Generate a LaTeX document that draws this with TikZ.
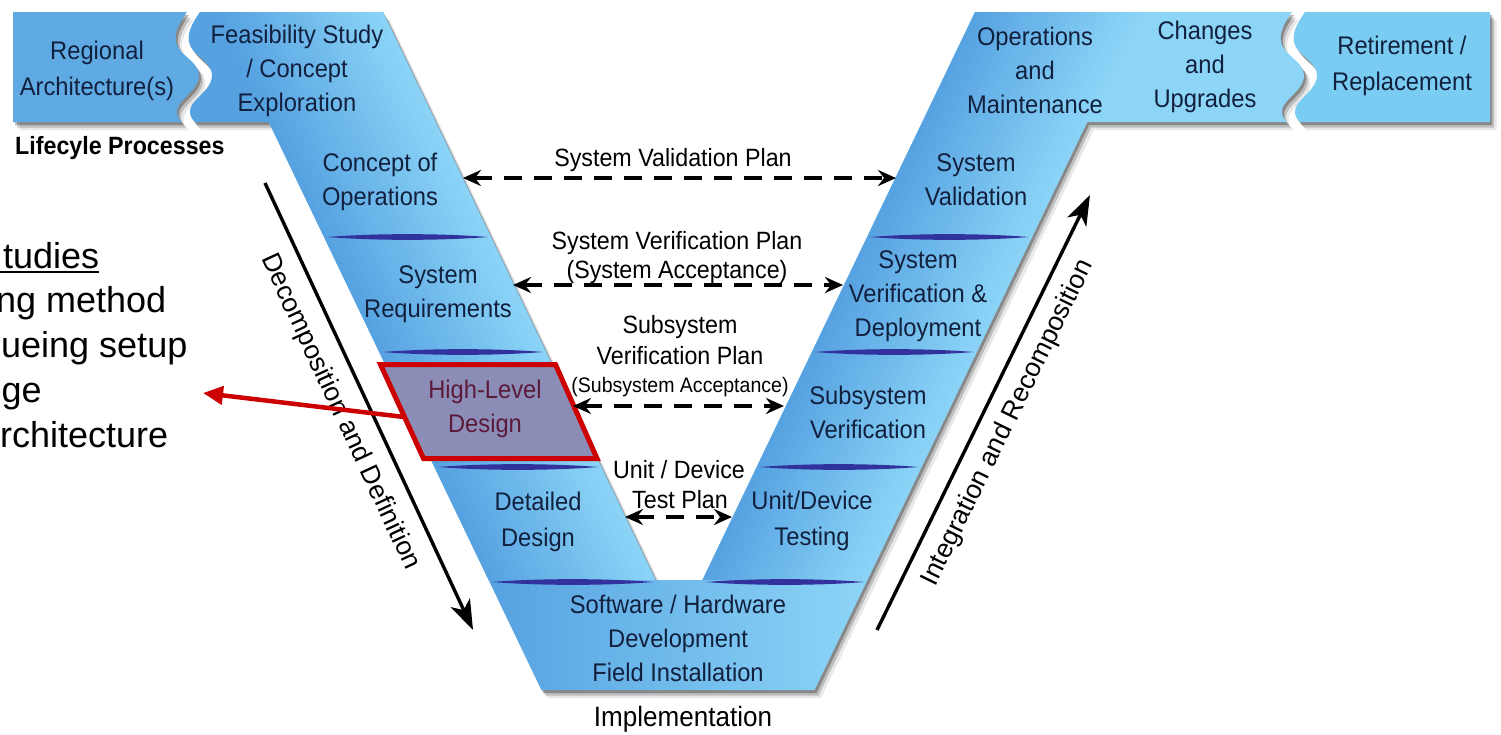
\documentclass[tikz,border=0pt]{standalone}
\usepackage{fontspec}
\setmainfont{Liberation Sans}
\newfontfamily\vfont{Liberation Sans}[FakeStretch=0.93]
\newfontfamily\nfont{Liberation Sans}
\usetikzlibrary{arrows.meta}

\definecolor{armdark}{RGB}{86,162,225}
\definecolor{armlight}{RGB}{140,213,247}
\definecolor{regionc}{RGB}{96,170,228}
\definecolor{retirec}{RGB}{122,204,242}
\definecolor{sepc}{RGB}{50,50,158}
\definecolor{navy}{RGB}{18,32,62}
\definecolor{redc}{RGB}{204,0,0}
\definecolor{hldfill}{RGB}{140,141,183}
\definecolor{hldtext}{RGB}{92,26,58}

% outlines of the blue blocks (pixel-like units, y grows downwards)
\def\pRegional{(13,12) -- (187,12) .. controls (180,22) and (174,32) .. (176,42) .. controls (178,55) and (200,62) .. (199,76) .. controls (198,92) and (176,100) .. (177,112) .. controls (177,117) and (180,120) .. (182,122) -- (13,122) -- cycle}
\def\pLeft{(200,12) -- (383,12) -- (655.6,580) -- (488.6,580) -- (268.8,122) -- (195,122) .. controls (193,120) and (190,117) .. (190,112) .. controls (189,100) and (211,92) .. (212,76) .. controls (213,62) and (191,55) .. (189,42) .. controls (187,32) and (193,22) .. (200,12) -- cycle}
\def\pBottom{(488.6,580) -- (867.4,580) -- (814.6,690) -- (541.4,690) -- cycle}
\def\pRight{(702.4,580) -- (975,12) -- (1292,12) .. controls (1285,22) and (1279,32) .. (1281,42) .. controls (1283,55) and (1305,62) .. (1304,76) .. controls (1303,92) and (1281,100) .. (1282,112) .. controls (1282,117) and (1285,120) .. (1287,122) -- (1087.2,122) -- (867.4,580) -- cycle}
\def\pRetire{(1305,12) -- (1490,12) -- (1490,122) -- (1300,122) .. controls (1298,120) and (1295,117) .. (1295,112) .. controls (1294,100) and (1316,92) .. (1317,76) .. controls (1318,62) and (1296,55) .. (1294,42) .. controls (1292,32) and (1298,22) .. (1305,12) -- cycle}

% soft drop shadow below and right of a block
\newcommand\castshadow[1]{%
  \begin{scope}[shift={(2,3)}]\fill[black,opacity=0.28] #1;\end{scope}
  \begin{scope}[shift={(4,5.5)}]\fill[black,opacity=0.18] #1;\end{scope}
  \begin{scope}[shift={(6.5,8)}]\fill[black,opacity=0.09] #1;\end{scope}}

% thin lens-shaped divider between phases
\newcommand\seplens[3]{%
  \pgfmathsetmacro\lA{#1+0.3*(#2-#1)}%
  \pgfmathsetmacro\lB{#1+0.7*(#2-#1)}%
  \fill[sepc] (#1,#3) .. controls (\lA,#3-3.8) and (\lB,#3-3.8) .. (#2,#3)
     .. controls (\lB,#3+3.8) and (\lA,#3+3.8) .. (#1,#3) -- cycle;}

\tikzset{
  vtext/.style={font=\vfont\fontsize{25.5}{34}\selectfont, text=navy, align=center, inner sep=0pt},
  vtextw/.style={vtext, font=\vfont\fontsize{25.5}{36}\selectfont},
  planlabel/.style={font=\vfont\fontsize{25}{30}\selectfont, text=black, inner sep=0pt},
  plansmall/.style={font=\vfont\fontsize{21}{26}\selectfont, text=black, inner sep=0pt},
  axislabel/.style={font=\nfont\fontsize{26.5}{30}\selectfont, text=black, inner sep=0pt},
  notetext/.style={font=\nfont\fontsize{36}{45}\selectfont, text=black, inner sep=0pt, anchor=base west},
  plandash/.style={draw=black, line width=3.4pt, dash pattern=on 18pt off 12pt,
     >={Stealth[length=18pt,width=16pt,inset=6pt]}, <->},
  flowarrow/.style={draw=black, line width=3.4pt, >={Stealth[length=30pt,width=21pt,inset=8pt]}, ->},
  redpointer/.style={draw=redc, line width=4.5pt, >={Triangle[length=20pt,width=18pt]}, ->},
}

\begin{document}
\begin{tikzpicture}[x=1pt,y=-1pt]
\useasboundingbox (0,0) rectangle (1501,734);
\fill[white] (0,0) rectangle (1501,734);

% shadows
\castshadow{\pRegional}
\castshadow{\pLeft}
\castshadow{\pBottom}
\castshadow{\pRight}
\castshadow{\pRetire}

% end blocks of the lifecycle band
\fill[regionc] \pRegional;
\fill[retirec] \pRetire;

% left arm with a gradient across its width
\begin{scope}
  \clip \pLeft;
  \fill[armdark] (150,0) rectangle (700,600);
  \foreach \i in {0,...,23}{
    \pgfmathsetmacro\dA{\i*167/24}
    \pgfmathsetmacro\dB{(\i+1)*167/24+0.8}
    \pgfmathtruncatemacro\pc{(\i+0.5)*100/24}
    \fill[armlight!\pc!armdark] (210.24+\dA,0) -- (210.24+\dB,0) -- (498.24+\dB,600) -- (498.24+\dA,600) -- cycle;
  }
\end{scope}

% right arm with a gradient across its width
\begin{scope}
  \clip \pRight;
  \fill[armlight] (650,0) rectangle (1400,600);
  \foreach \i in {0,...,23}{
    \pgfmathsetmacro\dA{\i*165/24}
    \pgfmathsetmacro\dB{(\i+1)*165/24+0.8}
    \pgfmathtruncatemacro\pc{(\i+0.5)*100/24}
    \fill[armlight!\pc!armdark] (980.76+\dA,0) -- (980.76+\dB,0) -- (692.76+\dB,600) -- (692.76+\dA,600) -- cycle;
  }
\end{scope}

% bottom band
\shade[left color=armdark, right color=armlight] \pBottom;

% dividers between phases
\seplens{327}{488}{237}
\seplens{382.2}{543.2}{352}
\seplens{437.4}{598.4}{467}
\seplens{491.6}{653.6}{582}
\seplens{870}{1029}{237}
\seplens{814.8}{973.8}{352}
\seplens{759.6}{918.6}{467}
\seplens{705.4}{864.4}{582}

% highlighted phase
\draw[redc, line width=5pt, fill=hldfill, line join=miter]
  (380.5,364.5) -- (555.5,364.5) -- (597,458.5) -- (423.5,458.5) -- cycle;

% phase names
\node[vtextw] (regional) at (97,71) {Regional\\Architecture(s)};
\node[vtext] (feas) at (297,71) {Feasibility Study\\/ Concept\\Exploration};
\node[vtext] (conops) at (380,182) {Concept of\\Operations};
\node[vtext] (sysreq) at (438,294) {System\\Requirements};
\node[vtext, text=hldtext] (hld) at (485,409) {High-Level\\Design};
\node[vtextw] (detail) at (538,522) {Detailed\\Design};
\node[vtext] (swhw) at (678,638) {Software / Hardware\\Development\\Field Installation};
\node[vtextw] (unitdev) at (812,521) {Unit/Device\\Testing};
\node[vtext] (subver) at (868,412) {Subsystem\\Verification};
\node[vtext] (sysverdep) at (918,296) {System\\Verification \&\\Deployment};
\node[vtext] (sysval) at (976,180) {System\\Validation};
\node[vtext] (ops) at (1035,70) {Operations\\and\\Maintenance};
\node[vtext] (changes) at (1205,67) {Changes\\and\\Upgrades};
\node[vtextw] (retire) at (1402,66) {Retirement /\\Replacement};

\node[font=\vfont\bfseries\fontsize{25}{30}\selectfont, anchor=base west, inner sep=0pt] (lifecycle) at (15,154) {Lifecyle Processes};
\node[font=\vfont\fontsize{28}{32}\selectfont, anchor=base, inner sep=0pt] (impl) at (683,726) {Implementation};

% verification plans between the arms
\node[planlabel] (valplan) at (673,160) {System Validation Plan};
\node[planlabel] (verplanA) at (677,243) {System Verification Plan};
\node[planlabel] (verplanB) at (677,272) {(System Acceptance)};
\node[planlabel] (subplanA) at (680,327) {Subsystem};
\node[planlabel] (subplanB) at (680,356) {Verification Plan};
\node[plansmall] (subplanC) at (680,387) {(Subsystem Acceptance)};
\node[planlabel] (unitplanA) at (679,470) {Unit / Device};
\node[planlabel] (unitplanB) at (680,500) {Test Plan};

\coordinate (valL) at (463,178);  \coordinate (valR) at (896,178);
\coordinate (verL) at (513,285);  \coordinate (verR) at (843,285);
\coordinate (subL) at (573,406);  \coordinate (subR) at (784,406);
\coordinate (unitL) at (625,517); \coordinate (unitR) at (732,517);
\draw[plandash] (valL) -- (valR);
\draw[plandash] (verL) -- (verR);
\draw[plandash] (subL) -- (subR);
\draw[plandash] (unitL) -- (unitR);

% direction arrows along the arms
\coordinate (decA) at (265,183); \coordinate (decB) at (473,630);
\coordinate (intA) at (877,630); \coordinate (intB) at (1090,195);
\draw[flowarrow] (decA) -- (decB);
\draw[flowarrow] (intA) -- (intB);
\node[axislabel, rotate=-65.05] (decomp) at (340,412) {Decomposition and Definition};
\node[axislabel, rotate=63.9] (integ) at (1008,423) {Integration and Recomposition};

% side notes
\begin{scope}
  \clip (0,0) rectangle (1501,734);
  \node[notetext] (noteA) at (3,268) {tudies};
  \draw[line width=2.6pt] ([xshift=-4pt,yshift=-4pt]noteA.base west) -- ([yshift=-4pt]noteA.base east);
  \node[notetext] (noteB) at (-4,312) {ng method};
  \node[notetext] (noteC) at (1,357) {ueing setup};
  \node[notetext] (noteD) at (1.5,402) {ge};
  \node[notetext] (noteE) at (0,447) {rchitecture};
\end{scope}

% pointer from the highlighted phase to the notes
\coordinate (hldL) at (404,417);
\coordinate (noteTip) at (203,393);
\draw[redpointer] (hldL) -- (noteTip);
\end{tikzpicture}
\end{document}
